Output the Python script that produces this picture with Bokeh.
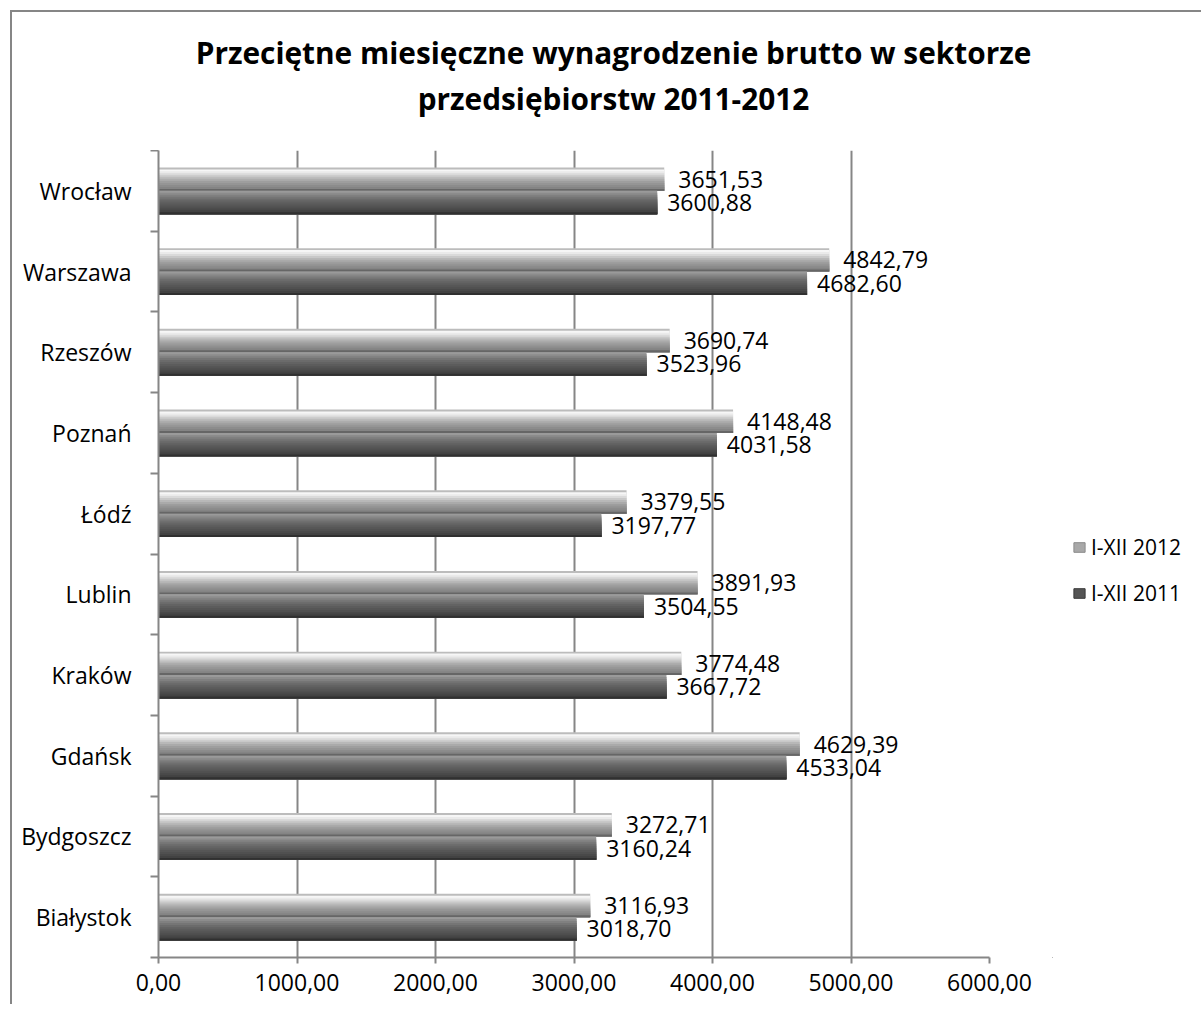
from bokeh.plotting import figure
from bokeh.layouts import row, column
from bokeh.models import (Range1d, FixedTicker, Label, Legend, LegendItem,
                          ColumnDataSource, LabelSet)
from bokeh.core.properties import value
from bokeh.embed import file_html
from bokeh.resources import INLINE

# ---- data ----
cities = ["Białystok", "Bydgoszcz", "Gdańsk", "Kraków", "Lublin",
          "Łódź", "Poznań", "Rzeszów", "Warszawa", "Wrocław"]
v2012 = [3116.93, 3272.71, 4629.39, 3774.48, 3891.93,
         3379.55, 4148.48, 3690.74, 4842.79, 3651.53]
v2011 = [3018.70, 3160.24, 4533.04, 3667.72, 3504.55,
         3197.77, 4031.58, 3523.96, 4682.60, 3600.88]
series_names = ["I-XII 2012", "I-XII 2011"]
x_ticks = [0, 1000, 2000, 3000, 4000, 5000, 6000]
x_tick_labels = ["0,00", "1000,00", "2000,00", "3000,00", "4000,00", "5000,00", "6000,00"]
title_lines = ["Przeciętne miesięczne wynagrodzenie brutto w sektorze",
               "przedsiębiorstw 2011-2012"]

FONT = "Open Sans"
n = len(cities)
centers = [i + 0.5 for i in range(n)]

TITLE_H = 138
BODY_H = 854

# ---- title strip ----
tf = figure(width=1189, height=TITLE_H, output_backend="svg", toolbar_location=None,
            x_range=Range1d(0, 1), y_range=Range1d(0, 1),
            min_border_left=0, min_border_right=0, min_border_top=0, min_border_bottom=0,
            x_axis_location=None, y_axis_location=None)
tf.grid.grid_line_color = None
tf.outline_line_color = None
tf.border_fill_color = "white"
for txt, ys in zip(title_lines, [98, 52]):
    tf.add_layout(Label(x=601, y=ys, x_units="screen", y_units="screen", text=txt,
                        text_font=FONT, text_font_size="29.8px", text_font_style="bold",
                        text_align="center", text_baseline="middle", text_color="black"))

# ---- main chart ----
p = figure(width=1040, height=BODY_H, output_backend="svg", toolbar_location=None,
           x_range=Range1d(0, 6000), y_range=Range1d(0, n),
           min_border_left=146, min_border_right=63, min_border_top=0, min_border_bottom=47)
p.outline_line_color = None
p.background_fill_color = "white"
p.border_fill_color = "white"

p.ygrid.grid_line_color = None
p.xgrid.ticker = FixedTicker(ticks=x_ticks)
p.xgrid.grid_line_color = "#868686"
p.xgrid.grid_line_width = 2

p.xaxis.ticker = FixedTicker(ticks=x_ticks)
p.xaxis.major_label_overrides = {t: l for t, l in zip(x_ticks, x_tick_labels)}
p.yaxis.ticker = FixedTicker(ticks=centers, minor_ticks=list(range(n + 1)))
p.yaxis.major_label_overrides = {c: name for c, name in zip(centers, cities)}
for ax in (p.xaxis[0], p.yaxis[0]):
    ax.axis_line_color = "#868686"
    ax.axis_line_width = 2
    ax.major_label_text_font = FONT
    ax.major_label_text_font_size = "23px"
    ax.major_label_text_color = "black"
    ax.minor_tick_in = 0
p.xaxis.major_tick_line_color = "#868686"
p.xaxis.major_tick_line_width = 2
p.xaxis.major_tick_in = 0
p.xaxis.major_tick_out = 6
p.xaxis.minor_tick_line_color = None
p.xaxis.major_label_standoff = 10
p.yaxis.major_tick_line_color = None
p.yaxis.minor_tick_line_color = "#868686"
p.yaxis.minor_tick_line_width = 2
p.yaxis.minor_tick_out = 8
p.yaxis.major_label_standoff = 19

# bars with simulated gradient (each band covers from its top down to the bar bottom)
H = 0.29
bands = {
    "I-XII 2012": ["#bcbcbc", "#f6f6f6", "#eaeaea", "#dadada", "#c8c8c8", "#b8b8b8",
                   "#aaaaaa", "#9e9e9e", "#959595", "#8c8c8c", "#848484", "#666666"],
    "I-XII 2011": ["#9a9a9a", "#8c8c8c", "#808080", "#757575", "#6b6b6b", "#636363",
                   "#5c5c5c", "#565656", "#505050", "#494949", "#424242", "#303030"],
}
legend_colors = {"I-XII 2012": "#a8a8a8", "I-XII 2011": "#555555"}
legend_lines = {"I-XII 2012": "#8a8a8a", "I-XII 2011": "#3a3a3a"}
offsets = {"I-XII 2012": H / 2, "I-XII 2011": -H / 2}
values = {"I-XII 2012": v2012, "I-XII 2011": v2011}
label_xoff = {"I-XII 2012": 14, "I-XII 2011": 10}
for name in series_names:
    cols = bands[name]
    k = len(cols)
    yc = [c + offsets[name] for c in centers]
    for i, col in enumerate(cols):
        hh = H * (k - i) / k
        ys = [y - H / 2 + hh / 2 for y in yc]
        src = ColumnDataSource(dict(y=ys, right=values[name]))
        p.hbar(y="y", right="right", left=0, height=hh, source=src,
               fill_color=col, line_color=None)
    lsrc = ColumnDataSource(dict(x=values[name], y=yc,
                                 t=[f"{v:.2f}".replace(".", ",") for v in values[name]]))
    p.add_layout(LabelSet(x="x", y="y", text="t", source=lsrc, x_offset=label_xoff[name],
                          text_baseline="middle", text_font=value(FONT),
                          text_font_size="23px", text_color="black"))

# ---- legend in a small companion figure ----
lg = figure(width=149, height=BODY_H, output_backend="svg", toolbar_location=None,
            x_range=Range1d(0, 1), y_range=Range1d(0, 1),
            min_border_left=0, min_border_right=0, min_border_top=0, min_border_bottom=0,
            x_axis_location=None, y_axis_location=None)
lg.grid.grid_line_color = None
lg.outline_line_color = None
lg.background_fill_color = "white"
lg.border_fill_color = "white"
items = []
for name in series_names:
    # zero-size proxy renderer; only its legend swatch is shown
    r = lg.hbar(y=[-5], right=[0], left=0, height=0, fill_color=legend_colors[name],
                line_color=legend_lines[name])
    items.append(LegendItem(label=name, renderers=[r]))
legend = Legend(items=items, location=(20, 350), orientation="vertical",
                label_text_font=FONT, label_text_font_size="21px", label_text_color="black",
                glyph_width=14, glyph_height=12, spacing=18, padding=0, margin=0,
                border_line_color=None, background_fill_alpha=0)
lg.add_layout(legend)

layout = column(tf, row(p, lg, spacing=0), spacing=0)
layout.styles = {"border-left": "2px solid #868686", "border-top": "2px solid #868686",
                 "margin": "10px 0 0 10px"}

open("out.html", "w").write(file_html(layout, INLINE))
